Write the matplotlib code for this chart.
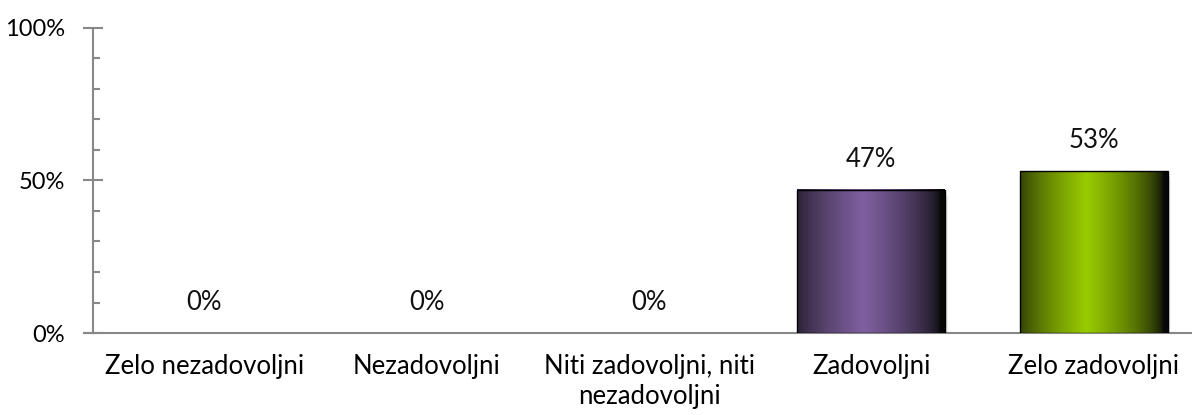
import matplotlib
matplotlib.use('Agg')
import matplotlib.pyplot as plt
import matplotlib.colors as mcolors
from matplotlib.patches import Rectangle
from matplotlib.ticker import MultipleLocator, FuncFormatter
import numpy as np

categories = ['Zelo nezadovoljni', 'Nezadovoljni', 'Niti zadovoljni, niti\nnezadovoljni',
              'Zadovoljni', 'Zelo zadovoljni']
values = [0, 0, 0, 47, 53]
bar_colors = [None, None, None, '#7f60a0', '#99cc00']

plt.rcParams['font.family'] = ['Lato', 'DejaVu Sans']
fs = 18.5

fig = plt.figure(figsize=(11.92, 4.15), dpi=100)
ax = fig.add_axes([93 / 1192, 1 - 333 / 415, (1205 - 93) / 1192, 305 / 415])

x = np.arange(len(categories))
bars = ax.bar(x, values, width=0.665, color='none', edgecolor='none', zorder=3)

# horizontal shading: dark at the edges, bright a bit left of centre
t = np.linspace(0, 1, 256)
shade = np.clip(1 - np.abs(t - 0.45) / 0.52, 0, 1) ** 0.6
for rect, col in zip(bars, bar_colors):
    if col is None or rect.get_height() == 0:
        continue
    x0, w, h = rect.get_x(), rect.get_width(), rect.get_height()
    base = np.array(mcolors.to_rgb(col))
    dark = np.array([0.03, 0.03, 0.03])
    img = dark + (base - dark) * shade[:, None]
    img = img[None, :, :]
    # soft drop shadow
    for k, a in enumerate([0.10, 0.08, 0.06, 0.04]):
        off = 0.004 + k * 0.004
        ax.add_patch(Rectangle((x0 + off, -1.2 - k * 0.4), w, h, color='#606060',
                               alpha=a, lw=0, zorder=2))
    ax.imshow(img, extent=[x0, x0 + w, 0, h], aspect='auto', zorder=3,
              interpolation='bilinear')
    ax.add_patch(Rectangle((x0, 0), w, h, fill=False, edgecolor='#000000',
                           lw=1.0, zorder=4))

for xi, v in zip(x, values):
    ax.annotate(f'{v}%', (xi, v), xytext=(0, 13), textcoords='offset points',
                ha='center', va='bottom', fontsize=fs, color='#111111')

ax.set_xlim(-0.5, 4.5)
ax.set_ylim(0, 100)
ax.yaxis.set_major_locator(MultipleLocator(50))
ax.yaxis.set_minor_locator(MultipleLocator(10))
ax.yaxis.set_major_formatter(FuncFormatter(lambda v, p: f'{v:.0f}%'))
ax.tick_params(axis='y', which='major', direction='inout', length=14, width=1.5,
               color='#888888', labelsize=17, pad=13)
ax.tick_params(axis='y', which='minor', direction='in', length=5, width=1.5,
               color='#888888')
ax.set_xticks(x)
ax.set_xticklabels(categories, fontsize=fs, linespacing=1.25)
ax.tick_params(axis='x', length=0, pad=15)

for side in ['top', 'right']:
    ax.spines[side].set_visible(False)
for side in ['left', 'bottom']:
    ax.spines[side].set_color('#888888')
    ax.spines[side].set_linewidth(1.5)
ax.spines['bottom'].set_bounds(-0.535, 4.5)

fig.savefig('out.png', dpi=100)
